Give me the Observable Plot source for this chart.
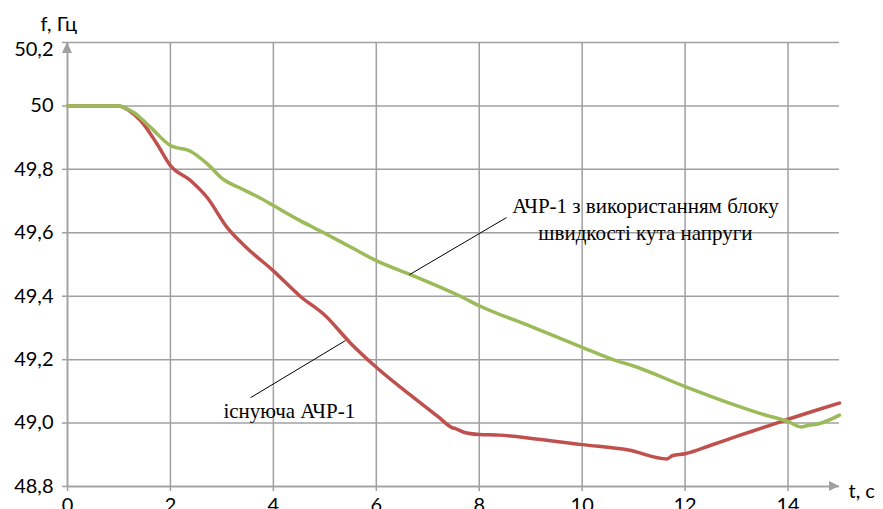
<!DOCTYPE html>
<html><head><meta charset="utf-8">
<script src="https://cdn.jsdelivr.net/npm/d3@7"></script>
<script src="https://cdn.jsdelivr.net/npm/@observablehq/plot@0.6"></script>
<style>body{margin:0;background:#fff;} svg{overflow:visible}</style>
</head><body><div id="chart"></div>
<script>
// ---- data ----
const tRed   = [0, 1.0, 1.2, 1.42, 1.74, 2.0, 2.39, 2.71, 3.1, 3.5, 4.0, 4.52, 5.0, 5.5, 6.0, 6.72, 7.2, 7.47, 7.55, 7.7, 8.0, 8.4, 9.1, 10.0, 10.9, 11.65, 11.75, 12.0, 12.5, 13.0, 13.5, 14.0, 14.5, 15.0];
const fRed   = [50.0, 50.0, 49.985, 49.954, 49.88, 49.812, 49.765, 49.712, 49.617, 49.55, 49.48, 49.4, 49.34, 49.252, 49.176, 49.081, 49.02, 48.986, 48.982, 48.971, 48.964, 48.962, 48.95, 48.932, 48.915, 48.887, 48.897, 48.903, 48.93, 48.958, 48.985, 49.012, 49.038, 49.063];
const tGreen = [0, 1.0, 1.1, 1.28, 1.61, 2.0, 2.39, 2.71, 3.03, 3.3, 3.68, 4.0, 4.5, 4.98, 5.5, 6.0, 6.66, 7.0, 7.63, 8.0, 9.0, 10.0, 10.66, 11.0, 12.0, 13.0, 13.5, 14.0, 14.25, 14.4, 14.6, 15.0];
const fGreen = [50.0, 50.0, 49.995, 49.98, 49.933, 49.875, 49.857, 49.818, 49.768, 49.745, 49.715, 49.686, 49.64, 49.6, 49.555, 49.512, 49.468, 49.445, 49.4, 49.37, 49.305, 49.239, 49.197, 49.18, 49.115, 49.055, 49.028, 49.005, 48.988, 48.993, 48.998, 49.025];
const xTicks = [0, 2, 4, 6, 8, 10, 12, 14];
const yTicks = [48.8, 49.0, 49.2, 49.4, 49.6, 49.8, 50.0, 50.2];
const labelRed = "існуюча АЧР-1";
const labelGreen = "АЧР-1 з використанням блоку\nшвидкості кута напруги";
const yLabel = "f, Гц";
const xLabel = "t, c";
// annotation anchors (data coordinates)
const leaderRed   = [{x1: 3.556, y1: 49.080, x2: 5.40, y2: 49.260}];
const leaderGreen = [{x1: 6.645, y1: 49.468, x2: 8.53, y2: 49.648}];
const textRedAt   = [{t: 3.03, f: 49.017}];
const textGreenAt = [{t: 11.23, f: 49.576}];

const red = tRed.map((t, i) => ({t, f: fRed[i]}));
const green = tGreen.map((t, i) => ({t, f: fGreen[i]}));
const fmt = d => d === 50 ? "50" : d.toFixed(1).replace(".", ",");
const GRID = "#a0a0a0";

const plot = Plot.plot({
  width: 883, height: 509,
  marginLeft: 67, marginRight: 44, marginTop: 42, marginBottom: 23,
  x: {domain: [0, 15]},
  y: {domain: [48.8, 50.2]},
  style: {fontFamily: "Lato, sans-serif", fontSize: "20px", color: "#000", background: "#fff", overflow: "visible"},
  marks: [
    Plot.gridX(xTicks, {stroke: GRID, strokeOpacity: 1, strokeWidth: 1.5}),
    Plot.gridY(yTicks, {stroke: GRID, strokeOpacity: 1, strokeWidth: 1.5}),
    Plot.ruleX([0], {stroke: GRID, strokeWidth: 1.5}),
    Plot.ruleY([48.8], {stroke: GRID, strokeWidth: 1.5}),
    Plot.axisX(xTicks, {tickSize: 5, tickPadding: 6, stroke: GRID, strokeWidth: 1.5, fontSize: 20, label: null, tickFormat: d => String(d)}),
    Plot.axisY(yTicks, {tickSize: 5, tickPadding: 9, stroke: GRID, strokeWidth: 1.5, fontSize: 20, label: null, tickFormat: d => d === 50.2 ? "" : fmt(d)}),
    Plot.text([50.2], {y: d => d, text: fmt, frameAnchor: "left", dx: -14, dy: 7, textAnchor: "end", fontSize: 20}),
    Plot.line(red, {x: "t", y: "f", stroke: "#c0504d", strokeWidth: 3.5, curve: "monotone-x"}),
    Plot.line(green, {x: "t", y: "f", stroke: "#9bbb59", strokeWidth: 3.5, curve: "monotone-x"}),
    Plot.link(leaderRed, {x1: "x1", y1: "y1", x2: "x2", y2: "y2", stroke: "#000", strokeWidth: 1}),
    Plot.link(leaderGreen, {x1: "x1", y1: "y1", x2: "x2", y2: "y2", stroke: "#000", strokeWidth: 1}),
    Plot.text(textRedAt, {x: "t", y: "f", text: () => labelRed, textAnchor: "start", lineAnchor: "bottom", fontFamily: "Liberation Serif, serif", fontSize: 21}),
    Plot.text(textGreenAt, {x: "t", y: "f", text: () => labelGreen, textAnchor: "middle", lineAnchor: "bottom", lineHeight: 1.29, fontFamily: "Liberation Serif, serif", fontSize: 21}),
    Plot.text([yLabel], {text: d => d, frameAnchor: "top-left", dx: -27, dy: -12, textAnchor: "start", lineAnchor: "bottom", fontSize: 20}),
    Plot.text([xLabel], {text: d => d, frameAnchor: "bottom-right", dx: 9, dy: 11, textAnchor: "start", lineAnchor: "bottom", fontSize: 20})
  ]
});

// axis arrow heads, placed through the plot's own scales
const sx = plot.scale("x"), sy = plot.scale("y");
const x0 = sx.apply(0), yTop = sy.apply(50.2), xEnd = sx.apply(15), y0 = sy.apply(48.8);
const svg = d3.select(plot);
svg.append("path").attr("d", `M${x0 - 5},${yTop + 11}L${x0},${yTop}L${x0 + 5},${yTop + 11}Z`).attr("fill", GRID);
svg.append("path").attr("d", `M${xEnd - 10},${y0 - 5}L${xEnd},${y0}L${xEnd - 10},${y0 + 5}Z`).attr("fill", GRID);

document.getElementById("chart").append(plot);
</script>
</body></html>
